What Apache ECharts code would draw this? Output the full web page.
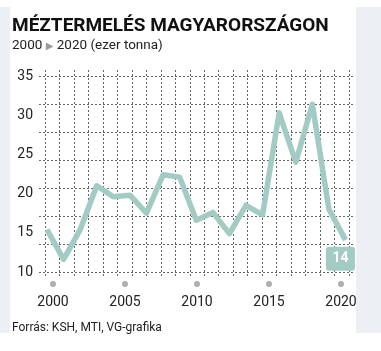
<!DOCTYPE html>
<html>
<head>
<meta charset="utf-8">
<script src="https://cdn.jsdelivr.net/npm/echarts@6/dist/echarts.min.js"></script>
<style>
html, body { margin: 0; padding: 0; background: #fff; }
#main { width: 381px; height: 351px; }
</style>
</head>
<body>
<div id="main"></div>
<script>
// méztermelés, ezer tonna (leolvasva a grafikáról)
const pointIdx = [0, 1, 2, 3, 4, 5, 6, 7, 8, 9, 10, 11, 12, 13, 14, 15, 16, 17, 18];
const honey = [15.4, 11.6, 15.4, 21.0, 19.6, 19.8, 17.5, 22.4, 22.1, 16.6, 17.6, 14.9, 18.5, 17.3, 30.3, 24.0, 31.4, 18.0, 14.1];
const yearTicks = [2000, 2005, 2010, 2015, 2020];
const yTicks = [10, 15, 20, 25, 30, 35];

const FONT = 'Roboto, "Liberation Sans", sans-serif';
const lineColor = '#a2cbc3';
const dashLine = { show: true, lineStyle: { color: '#666', width: 1, type: [2, 2] } };

const chart = echarts.init(document.getElementById('main'));

const lineData = honey.map((v, i) => {
  if (i !== honey.length - 1) return v;
  return {
    value: v,
    label: {
      show: true,
      position: 'inside',
      offset: [-5, 19],
      formatter: p => Math.round(p.value),
      color: '#fff',
      fontFamily: FONT,
      fontWeight: 'bold',
      fontSize: 14,
      lineHeight: 16,
      backgroundColor: lineColor,
      borderRadius: 3,
      padding: [4, 6.5]
    }
  };
});

chart.setOption({
  animation: false,
  textStyle: { fontFamily: FONT },
  graphic: [
    { type: 'rect', left: 0, top: 7, z: -10, shape: { width: 10, height: 326 }, style: { fill: '#eceff3' } },
    { type: 'rect', left: 356, top: 7, z: -10, shape: { width: 25, height: 326 }, style: { fill: '#eceff3' } },
    {
      type: 'text', x: 12, y: 26,
      style: { text: 'MÉZTERMELÉS MAGYARORSZÁGON', fill: '#111', font: 'bold 19px ' + FONT, verticalAlign: 'middle' }
    },
    {
      type: 'text', x: 12, y: 46,
      style: {
        text: '2000 {t|▶} 2020 (ezer tonna)', fill: '#222', font: '13.5px ' + FONT, verticalAlign: 'middle',
        rich: { t: { fill: '#9a9a9a', fontSize: 10, fontFamily: 'DejaVu Sans' } }
      }
    },
    {
      type: 'text', x: 12, y: 328,
      style: { text: 'Forrás: KSH, MTI, VG-grafika', fill: '#222', font: '12px ' + FONT, verticalAlign: 'middle' }
    }
  ],
  grid: [
    { left: 47, top: 76, width: 298.5, height: 196 },
    { left: 45, top: 70, width: 304, height: 208 },
    { left: 39, top: 76, width: 314, height: 196 },
    { left: 53, top: 278, width: 288, height: 12 }
  ],
  xAxis: [
    { gridIndex: 0, type: 'category', data: pointIdx, boundaryGap: false, show: false },
    {
      gridIndex: 1, type: 'value', min: 0, max: 21, interval: 1,
      axisLine: { show: false }, axisTick: { show: false }, axisLabel: { show: false },
      splitLine: dashLine
    },
    { gridIndex: 2, type: 'value', min: 0, max: 1, show: false },
    {
      gridIndex: 3, type: 'value', min: 2000, max: 2020, interval: 5,
      axisLine: { show: false }, axisTick: { show: false }, splitLine: { show: false },
      axisLabel: { margin: 5, fontSize: 14, color: '#222', fontFamily: FONT, formatter: v => String(v) }
    }
  ],
  yAxis: [
    {
      gridIndex: 0, type: 'value', min: yTicks[0], max: yTicks[yTicks.length - 1], interval: 5,
      axisLine: { show: false }, axisTick: { show: false }, splitLine: { show: false },
      axisLabel: { margin: 14, fontSize: 14, color: '#222', fontFamily: FONT }
    },
    { gridIndex: 1, type: 'value', min: 0, max: 1, show: false },
    {
      gridIndex: 2, type: 'value', min: 0, max: 7, interval: 1,
      axisLine: { show: false }, axisTick: { show: false }, axisLabel: { show: false },
      splitLine: dashLine
    },
    { gridIndex: 3, type: 'value', min: 0, max: 2, show: false }
  ],
  series: [
    {
      type: 'line',
      xAxisIndex: 0, yAxisIndex: 0,
      data: lineData,
      symbol: 'circle',
      symbolSize: 1,
      itemStyle: { color: lineColor },
      lineStyle: { color: lineColor, width: 5.5, join: 'round' },
      z: 5
    },
    {
      type: 'scatter',
      xAxisIndex: 3, yAxisIndex: 3,
      data: yearTicks.map(y => [y, 1]),
      symbolSize: 6,
      itemStyle: { color: '#9a9a9a' },
      silent: true
    }
  ]
});
</script>
</body>
</html>
